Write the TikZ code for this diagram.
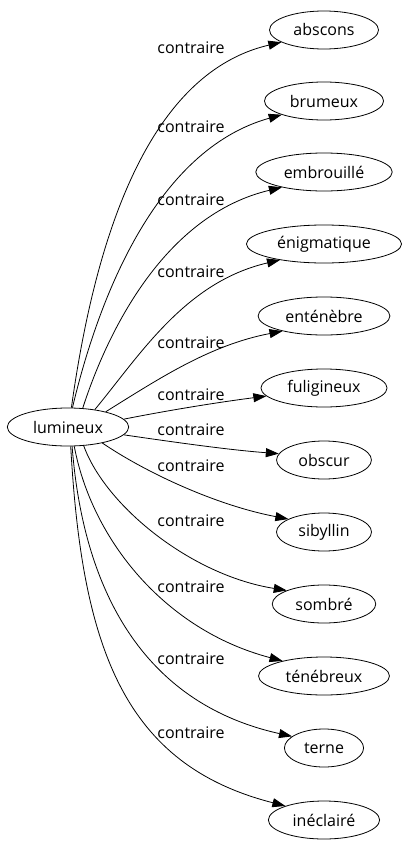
\documentclass[tikz,border=0pt]{standalone}
\usepackage{fontspec}
\setmainfont{Open Sans}
\usetikzlibrary{shapes.geometric,arrows.meta}

\begin{document}
\begin{tikzpicture}[
    x=1pt, y=-1pt,
    every node/.style={font=\fontsize{16}{19}\selectfont},
    mot/.style={ellipse, draw, line width=0.8pt,
                inner xsep=8pt, inner ysep=2pt,
                minimum height=38pt},
    rel/.style={inner sep=1pt},
    lien/.style={line width=0.8pt, -{Triangle[length=13pt,width=9pt]}}
]
\useasboundingbox (0,0) rectangle (410,851);

% le mot de depart
\node[mot] (lumineux) at (68,427) {lumineux};

% les contraires
\node[mot] (abscons)     at (324,30)  {abscons};
\node[mot] (brumeux)     at (324,101) {brumeux};
\node[mot] (embrouille)  at (324,172) {embrouillé};
\node[mot] (enigmatique) at (324,244) {énigmatique};
\node[mot] (entenebre)   at (324,316) {enténèbre};
\node[mot] (fuligineux)  at (324,388) {fuligineux};
\node[mot] (obscur)      at (324,460) {obscur};
\node[mot] (sibyllin)    at (324,532) {sibyllin};
\node[mot] (sombre)      at (324,604) {sombré};
\node[mot] (tenebreux)   at (324,676) {ténébreux};
\node[mot] (terne)       at (324,748) {terne};
\node[mot] (ineclaire)   at (324,820) {inéclairé};

% les etiquettes
\node[rel] (r-abscons)     at (191,48)  {contraire};
\node[rel] (r-brumeux)     at (191,127) {contraire};
\node[rel] (r-embrouille)  at (191,200) {contraire};
\node[rel] (r-enigmatique) at (191,272) {contraire};
\node[rel] (r-entenebre)   at (191,343) {contraire};
\node[rel] (r-fuligineux)  at (191,395) {contraire};
\node[rel] (r-obscur)      at (191,430) {contraire};
\node[rel] (r-sibyllin)    at (191,466) {contraire};
\node[rel] (r-sombre)      at (191,521) {contraire};
\node[rel] (r-tenebreux)   at (191,587) {contraire};
\node[rel] (r-terne)       at (191,659) {contraire};
\node[rel] (r-ineclaire)   at (191,733) {contraire};

% les aretes
\draw[lien] (lumineux.80)  .. controls (92,260)  and (140,75)  .. (abscons.196);
\draw[lien] (lumineux.77)  .. controls (98,300)  and (155,150) .. (brumeux.198);
\draw[lien] (lumineux.52)  .. controls (108,330) and (165,215) .. (embrouille.200);
\draw[lien] (lumineux.33)  .. controls (140,355) and (185,282) .. (enigmatique.200);
\draw[lien] (lumineux.22)  .. controls (160,378) and (210,345) .. (entenebre.200);
\draw[lien] (lumineux.8)   .. controls (170,410) and (220,402) .. (fuligineux.188);
\draw[lien] (lumineux.-8)  .. controls (180,443) and (230,450) .. (obscur.172);
\draw[lien] (lumineux.-25) .. controls (145,472) and (215,505) .. (sibyllin.160);
\draw[lien] (lumineux.-50) .. controls (105,505) and (190,575) .. (sombre.160);
\draw[lien] (lumineux.-72) .. controls (92,540)  and (165,630) .. (tenebreux.160);
\draw[lien] (lumineux.-78) .. controls (84,600)  and (150,705) .. (terne.160);
\draw[lien] (lumineux.-82) .. controls (82,650)  and (125,765) .. (ineclaire.160);
\end{tikzpicture}
\end{document}
